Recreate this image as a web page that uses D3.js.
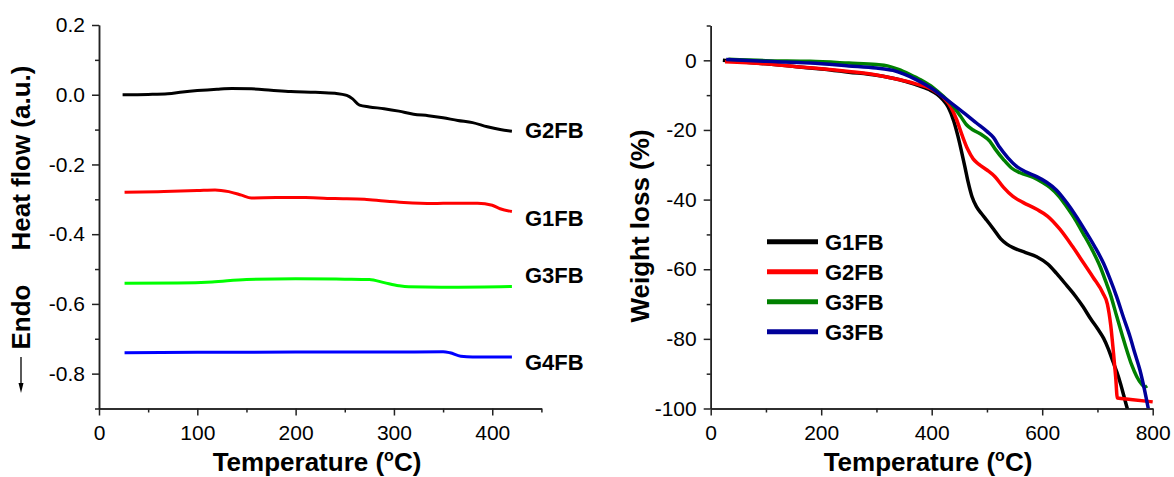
<!DOCTYPE html>
<html>
<head>
<meta charset="utf-8">
<script src="https://cdn.jsdelivr.net/npm/d3@7"></script>
<style>
  body { margin: 0; background: #fff; }
  text { font-family: "Liberation Sans", Arial, sans-serif; fill: #000; }
  .axis path, .axis line { stroke: #222; stroke-width: 1.5; }
  .axis text { font-size: 21px; font-family: "Liberation Sans", Arial, sans-serif; fill: #000; }
  .title { font-size: 26px; font-weight: bold; }
  .lab { font-size: 22px; font-weight: bold; }
</style>
</head>
<body>
<div id="chart"></div>
<script>
/* DSC (left) + TGA (right) */

// ---- left panel: heat flow, [temperature, value]
const dscG2FB = [[24,0.0],[50,0.001],[70,0.003],[85,0.008],[100,0.012],[120,0.016],[135,0.018],[155,0.017],[175,0.013],[195,0.009],[220,0.007],[240,0.004],[252,-0.002],[258,-0.012],[265,-0.030],[275,-0.035],[290,-0.040],[305,-0.047],[320,-0.056],[335,-0.060],[350,-0.066],[365,-0.074],[380,-0.080],[395,-0.092],[408,-0.100],[420,-0.105]];
const dscG1FB = [[26,-0.280],[60,-0.278],[100,-0.275],[118,-0.273],[132,-0.278],[145,-0.288],[155,-0.296],[180,-0.295],[210,-0.295],[240,-0.298],[270,-0.300],[290,-0.305],[310,-0.309],[340,-0.312],[360,-0.311],[385,-0.311],[400,-0.317],[408,-0.327],[420,-0.335]];
const dscG3FB = [[26,-0.541],[80,-0.540],[115,-0.537],[150,-0.530],[200,-0.528],[250,-0.529],[275,-0.530],[290,-0.539],[305,-0.548],[315,-0.551],[360,-0.552],[420,-0.550]];
const dscG4FB = [[26,-0.740],[100,-0.739],[200,-0.738],[300,-0.738],[350,-0.737],[357,-0.740],[368,-0.750],[380,-0.752],[420,-0.752]];
const dscNames = ["G2FB", "G1FB", "G3FB", "G4FB"];
const dscColors = ["#000000", "#ff0000", "#00ff00", "#0000ff"];
const dscLabelY = [138, 226, 283, 370];   // baselines of the end labels

// ---- right panel: weight loss, [temperature, %]
const tgaG1FB = [[22,0],[100,-1.0],[160,-1.9],[200,-2.5],[250,-3.4],[300,-4.3],[340,-5.5],[370,-6.9],[395,-8.4],[410,-9.8],[420,-11.3],[430,-13.5],[440,-17.5],[447,-21.5],[453,-25.5],[460,-30.5],[466,-35],[473,-39.2],[481,-42],[490,-44],[500,-46],[512,-48.5],[525,-51.3],[536,-52.8],[550,-54],[570,-55.2],[590,-56.4],[610,-58.5],[626,-61.2],[645,-64.8],[661,-67.9],[674,-70.8],[688,-74.3],[700,-77],[711,-79.8],[720,-83],[728,-86.5],[735,-89.5],[742,-93],[748,-96.5],[754,-100],[758,-102]];
const tgaG2FB = [[26,-0.4],[100,-1.0],[160,-1.9],[200,-2.4],[250,-3.2],[300,-4.2],[340,-5.5],[370,-6.7],[400,-8.3],[420,-10.5],[435,-13.5],[445,-17],[455,-21.5],[465,-25.5],[475,-28.3],[485,-29.8],[500,-31.5],[515,-33.5],[530,-36.5],[547,-39.1],[565,-40.8],[590,-42.8],[610,-44.8],[632,-48.5],[655,-53.5],[674,-58],[692,-62.3],[710,-66.9],[718,-70],[724,-76],[729,-84],[733,-91],[736,-97],[760,-97.4],[800,-98.1]];
const tgaG3FB = [[32,0.3],[100,-0.1],[180,-0.3],[250,-0.8],[300,-1.2],[320,-1.6],[340,-2.6],[360,-4.0],[380,-5.6],[403,-7.9],[420,-10.2],[439,-13.2],[452,-16],[463,-18.5],[475,-20],[490,-21.3],[505,-23.2],[515,-25.5],[530,-28.5],[545,-31],[560,-32.3],[584,-33.6],[600,-35],[614,-36.5],[630,-39],[644,-42],[660,-45.8],[674,-49.7],[690,-54.3],[705,-59.3],[715,-63.5],[723,-67],[735,-73.6],[745,-79],[753,-83.2],[762,-87.5],[771,-90.8],[780,-93],[786,-93.8],[790,-93.5]];
const tgaG3FBb = [[28,0.2],[100,-0.3],[180,-0.8],[250,-1.6],[300,-2.2],[330,-2.9],[350,-4.0],[370,-5.4],[390,-7.1],[403,-8.4],[420,-10.4],[439,-12.7],[460,-15.3],[481,-18],[500,-20.4],[512,-22.2],[523,-25],[538,-28],[554,-30.5],[570,-32],[590,-33.4],[608,-35],[626,-37.3],[645,-41],[662,-44.9],[680,-49.5],[695,-53.5],[711,-58.3],[722,-62.5],[735,-68],[747,-73.8],[759,-79.4],[768,-84.3],[777,-89],[785,-94.5],[792,-100]];
const tgaNames = ["G1FB", "G2FB", "G3FB", "G3FB"];
const tgaColors = ["#000000", "#ff0000", "#008000", "#000099"];

// ticks
const dscXMajor = [0, 100, 200, 300, 400];
const dscXMinor = [50, 150, 250, 350, 450];
const dscYMajor = [0.2, 0.0, -0.2, -0.4, -0.6, -0.8];
const dscYMinor = [0.1, -0.1, -0.3, -0.5, -0.7, -0.9];
const tgaXMajor = [0, 200, 400, 600, 800];
const tgaXMinor = [100, 300, 500, 700];
const tgaYMajor = [0, -20, -40, -60, -80, -100];
const tgaYMinor = [10, -10, -30, -50, -70, -90];

const width = 1174, height = 477;

const svg = d3.select("#chart")
  .append("svg")
  .attr("width", width)
  .attr("height", height)
  .style("background", "#fff");

// draw left + bottom axes, major ticks with labels, minor ticks without
function axes(x, y, xMaj, xMin, yMaj, yMin, yFmt) {
  const y0 = y.range()[0], x0 = x.range()[0];
  svg.append("g").attr("class", "axis").attr("transform", `translate(0,${y0})`)
    .call(d3.axisBottom(x).tickValues(xMin).tickSize(4).tickSizeOuter(0).tickFormat(""));
  svg.append("g").attr("class", "axis").attr("transform", `translate(0,${y0})`)
    .call(d3.axisBottom(x).tickValues(xMaj).tickSize(7).tickPadding(10).tickSizeOuter(0));
  svg.append("g").attr("class", "axis").attr("transform", `translate(${x0},0)`)
    .call(d3.axisLeft(y).tickValues(yMin).tickSize(4).tickSizeOuter(0).tickFormat(""));
  svg.append("g").attr("class", "axis").attr("transform", `translate(${x0},0)`)
    .call(d3.axisLeft(y).tickValues(yMaj).tickSize(7).tickPadding(7).tickSizeOuter(0).tickFormat(yFmt));
}

function xTitle(cx) {
  const t = svg.append("text").attr("class", "title")
    .attr("x", cx).attr("y", 471).attr("text-anchor", "middle");
  t.append("tspan").text("Temperature (");
  t.append("tspan").attr("dy", -10).style("font-size", "16px").text("o");
  t.append("tspan").attr("dy", 10).text("C)");
}

/* ---------- left: DSC ---------- */
const x1 = d3.scaleLinear().domain([0, 450]).range([99, 541.4]);
const y1 = d3.scaleLinear().domain([-0.9, 0.2]).range([408.5, 25]);

axes(x1, y1, dscXMajor, dscXMinor, dscYMajor, dscYMinor, d => d.toFixed(1));

const line1 = d3.line().x(d => x1(d[0])).y(d => y1(d[1])).curve(d3.curveMonotoneX);

[dscG2FB, dscG1FB, dscG3FB, dscG4FB].forEach((s, i) => {
  svg.append("path")
    .datum(s)
    .attr("d", line1)
    .attr("fill", "none")
    .attr("stroke", dscColors[i])
    .attr("stroke-width", 3);
  svg.append("text")
    .attr("class", "lab")
    .attr("x", 525)
    .attr("y", dscLabelY[i])
    .text(dscNames[i]);
});

svg.append("text").attr("class", "title")
  .attr("transform", "translate(30,158) rotate(-90)")
  .attr("text-anchor", "middle")
  .text("Heat flow (a.u.)");
svg.append("text").attr("class", "title")
  .attr("transform", "translate(30,317) rotate(-90)")
  .attr("text-anchor", "middle")
  .text("Endo");
// little arrow under "Endo"
svg.append("line")
  .attr("x1", 21).attr("x2", 21).attr("y1", 357).attr("y2", 388)
  .attr("stroke", "#000").attr("stroke-width", 1.3);
svg.append("path")
  .attr("d", "M18.5,383 L21,393 L23.5,383 Z")
  .attr("fill", "#000");

xTitle(317);

/* ---------- right: TGA ---------- */
const x2 = d3.scaleLinear().domain([0, 800]).range([710.7, 1152.7]);
const y2 = d3.scaleLinear().domain([-100, 10]).range([408.5, 25.5]);

svg.append("clipPath").attr("id", "clip2")
  .append("rect")
  .attr("x", x2.range()[0]).attr("y", y2.range()[1])
  .attr("width", x2.range()[1] - x2.range()[0] + 4)
  .attr("height", y2.range()[0] - y2.range()[1]);

axes(x2, y2, tgaXMajor, tgaXMinor, tgaYMajor, tgaYMinor, d => String(d));

const line2 = d3.line().x(d => x2(d[0])).y(d => y2(d[1])).curve(d3.curveMonotoneX);

[tgaG1FB, tgaG2FB, tgaG3FB, tgaG3FBb].forEach((s, i) => {
  svg.append("path")
    .datum(s)
    .attr("clip-path", "url(#clip2)")
    .attr("d", line2)
    .attr("fill", "none")
    .attr("stroke", tgaColors[i])
    .attr("stroke-width", 3.5);
});

// legend
const leg = svg.append("g").attr("transform", "translate(767,241.7)");
tgaNames.forEach((n, i) => {
  leg.append("line")
    .attr("x1", 0).attr("x2", 51)
    .attr("y1", i * 30).attr("y2", i * 30)
    .attr("stroke", tgaColors[i])
    .attr("stroke-width", 5);
  leg.append("text")
    .attr("class", "lab")
    .attr("x", 58)
    .attr("y", i * 30 + 8)
    .text(n);
});

svg.append("text").attr("class", "title")
  .attr("transform", "translate(649,226) rotate(-90)")
  .attr("text-anchor", "middle")
  .text("Weight loss (%)");

xTitle(928);
</script>
</body>
</html>
